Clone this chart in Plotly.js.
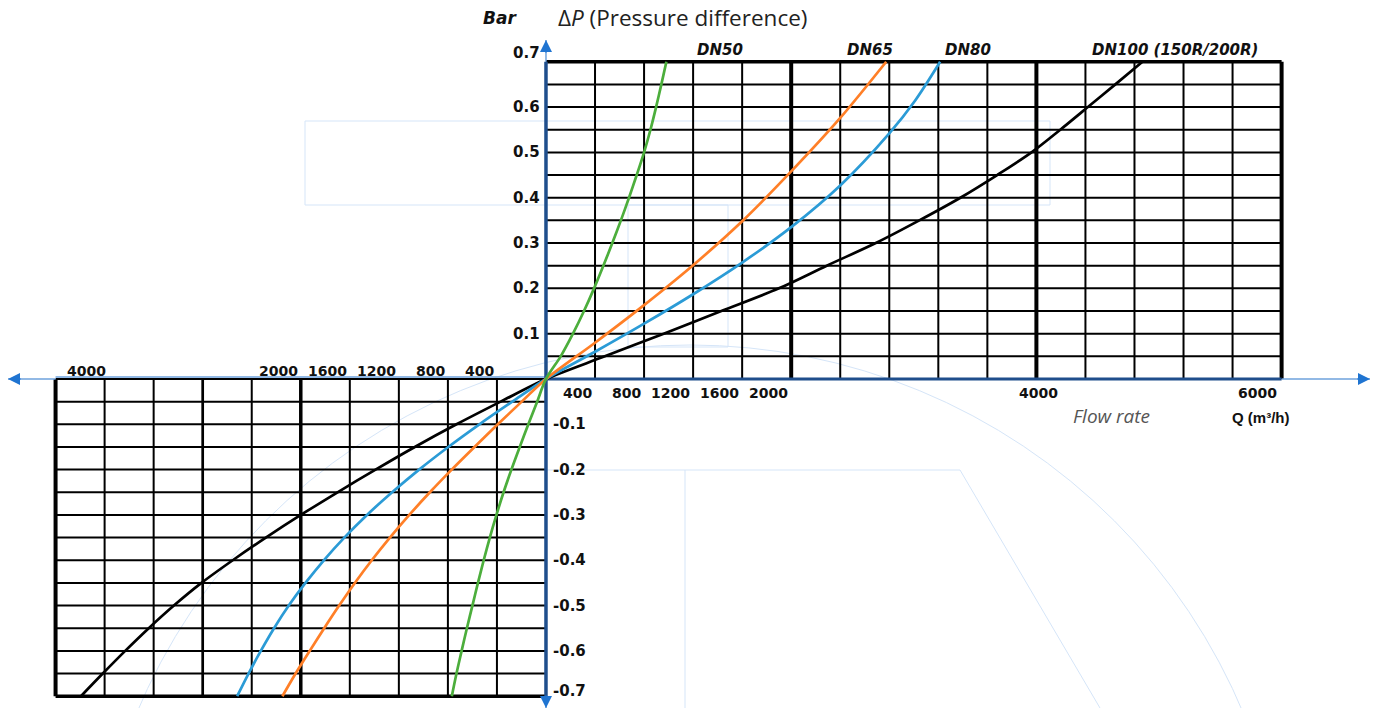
<!DOCTYPE html>
<html>
<head>
<meta charset="utf-8">
<script src="https://cdn.plot.ly/plotly-3.0.1.min.js"></script>
<style>
  html, body { margin: 0; padding: 0; background: #ffffff; }
  #chart { width: 1383px; height: 708px; }
</style>
</head>
<body>
<div id="chart"></div>
<script>
// ---------------- DATA ----------------
// Flow rate Q (m³/h) and pressure difference ΔP (bar)
// Upper-right quadrant (positive flow / positive ΔP)
const posDP = [0, 0.05, 0.10, 0.15, 0.20, 0.25, 0.30, 0.35, 0.40, 0.45, 0.50, 0.55, 0.60, 0.65, 0.70];
const dn50PosQ  = [0, 120, 220, 310, 392, 468, 541, 611, 677, 740, 800, 852, 898, 941, 982];
const dn100PosQ = [0, 480, 960, 1430, 1900, 2290, 2690, 3045, 3380, 3680, 3960, 4195, 4420, 4644, 4865];

const dn65PosQ  = [0, 400, 800, 1200, 1600, 2000, 2400, 2775];
const dn65PosDP = [0, 0.080, 0.163, 0.251, 0.348, 0.458, 0.576, 0.70];

const dn80PosQ  = [0, 400, 800, 1200, 1600, 2000, 2400, 2800, 3010, 3215];
const dn80PosDP = [0, 0.060, 0.122, 0.187, 0.257, 0.335, 0.427, 0.542, 0.614, 0.70];

// Lower-left quadrant (reverse flow / negative ΔP)
const negDP = [-0.05, -0.10, -0.15, -0.20, -0.25, -0.30, -0.35, -0.40, -0.45, -0.50, -0.55, -0.60, -0.65, -0.70];
const dn50NegQ  = [-72, -144, -214, -282, -346, -404, -458, -508, -555, -600, -645, -688, -730, -768];
const dn65NegQ  = [-198, -393, -583, -769, -947, -1115, -1273, -1421, -1559, -1687, -1809, -1927, -2042, -2150];
const dn80NegQ  = [-275, -543, -797, -1035, -1255, -1460, -1645, -1812, -1962, -2098, -2218, -2326, -2426, -2519];
const dn100NegQ = [-370, -730, -1070, -1390, -1700, -2000, -2285, -2555, -2810, -3035, -3240, -3432, -3615, -3793];

const seriesNames = ["DN50", "DN65", "DN80", "DN100 (150R/200R)"];

// Tick labels
const xTicksPos = [400, 800, 1200, 1600, 2000, 4000, 6000];
const xTicksNeg = [-400, -800, -1200, -1600, -2000, -4000];
const yTicksPos = [0.1, 0.2, 0.3, 0.4, 0.5, 0.6, 0.7];
const yTicksNeg = [-0.1, -0.2, -0.3, -0.4, -0.5, -0.6, -0.7];

// ---------------- LAYOUT GEOMETRY ----------------
const W = 1383, H = 708, ML = 8, MR = 13, MT = 40, MB = 0;
const PW = W - ML - MR, PH = H - MT - MB;
const X_RANGE = [-4388, 6721];
const Y_RANGE = [-0.726, 0.748];
const Q_MAX = 6000, Q_MIN = -4000, P_MAX = 0.7, P_MIN = -0.7;
const Q_STEP = 400, P_STEP = 0.05;

function pxX(p) { return (p - ML) / PW; }          // pixel -> paper x
function pxY(p) { return (H - MB - p) / PH; }      // pixel -> paper y

const colors = { dn50: "#4cae3c", dn65: "#ff7f27", dn80: "#2b9bd6", dn100: "#000000" };

function curve(negQ, posQ, posP, color) {
  const xs = negQ.slice().reverse().concat(posQ);
  const ys = negDP.slice().reverse().concat(posP);
  return {
    type: "scatter", mode: "lines", x: xs, y: ys,
    line: { color: color, width: 2.7, shape: "spline", smoothing: 0.9 },
    hoverinfo: "skip", showlegend: false
  };
}

const traces = [
  curve(dn100NegQ, dn100PosQ, posDP, colors.dn100),
  curve(dn80NegQ, dn80PosQ, dn80PosDP, colors.dn80),
  curve(dn65NegQ, dn65PosQ, dn65PosDP, colors.dn65),
  curve(dn50NegQ, dn50PosQ, posDP, colors.dn50)
];

// ---------------- SHAPES: grid, axes, faint background ----------------
const shapes = [];
function line(x0, y0, x1, y1, color, width, extra) {
  const s = { type: "line", xref: "x", yref: "y", x0: x0, y0: y0, x1: x1, y1: y1,
              line: { color: color, width: width }, layer: "below" };
  return Object.assign(s, extra || {});
}
const faint = "#d5e5f8";
function faintPaperLine(a, b, c, d) {
  shapes.push({ type: "line", xref: "paper", yref: "paper", x0: pxX(a), y0: pxY(b), x1: pxX(c), y1: pxY(d),
                line: { color: faint, width: 1 }, layer: "below" });
}
// faint watermark-like outlines
shapes.push({ type: "rect", xref: "paper", yref: "paper", x0: pxX(305), y0: pxY(121), x1: pxX(1050), y1: pxY(205),
              line: { color: faint, width: 1 }, layer: "below" });
shapes.push({ type: "rect", xref: "paper", yref: "paper", x0: pxX(628), y0: pxY(205), x1: pxX(728), y1: pxY(347),
              line: { color: faint, width: 1 }, layer: "below" });
shapes.push({ type: "circle", xref: "paper", yref: "paper", x0: pxX(90), y0: pxY(345), x1: pxX(1290), y1: pxY(1545),
              line: { color: faint, width: 1 }, layer: "below" });
faintPaperLine(423, 470, 960, 470);
faintPaperLine(685, 470, 685, 708);
faintPaperLine(960, 470, 1100, 708);

// upper-right grid
const nQp = Math.round(Q_MAX / Q_STEP), nP = Math.round(P_MAX / P_STEP);
for (let j = 1; j <= nP; j++) {
  const p = +(j * P_STEP).toFixed(3);
  shapes.push(line(0, p, Q_MAX, p, "#000", j === nP ? 3.5 : 2));
}
for (let i = 1; i <= nQp; i++) {
  const q = i * Q_STEP;
  shapes.push(line(q, 0, q, P_MAX, "#000", q % 2000 === 0 ? 4 : 2));
}
// lower-left grid
const nQn = Math.round(-Q_MIN / Q_STEP);
for (let j = 0; j <= nP; j++) {
  const p = -(j * P_STEP);
  shapes.push(line(Q_MIN, +p.toFixed(3), 0, +p.toFixed(3), "#000", j === nP ? 3.5 : 2));
}
for (let i = 1; i <= nQn; i++) {
  const q = -i * Q_STEP;
  let w = 2;
  if (q === -2000) w = 3.5;
  if (q === Q_MIN) w = 4;
  if (q === -2800) w = 2.7;
  shapes.push(line(q, P_MIN, q, 0, "#000", w));
}
// axes
const lightBlue = "#6ea2dd", darkBlue = "#1f4e8c";
shapes.push(line(X_RANGE[0], 0, Q_MIN, 0, lightBlue, 1.5));
shapes.push(line(Q_MAX, 0, X_RANGE[1], 0, lightBlue, 1.5));
shapes.push(line(Q_MIN, 0, 0, 0, lightBlue, 1.6, { ysizemode: "pixel", yanchor: 0, y0: 2, y1: 2 }));
shapes.push(line(0, 0, Q_MAX, 0, darkBlue, 3));
shapes.push(line(0, P_MAX, 0, Y_RANGE[1], lightBlue, 1.5));
shapes.push(line(0, Y_RANGE[0], 0, P_MIN, lightBlue, 1.5));
shapes.push(line(0, P_MIN, 0, P_MAX, darkBlue, 3.5));

// ---------------- ANNOTATIONS ----------------
const annotations = [];
const tickFont = { family: "DejaVu Sans, Verdana, sans-serif", size: 14, color: "#111" };
const yTickFont = { family: "DejaVu Sans, Verdana, sans-serif", size: 15, color: "#111" };

xTicksPos.forEach(v => {
  let anchor = "right", shift = -1;
  if (v === 4000) { anchor = "center"; shift = 2; }
  if (v === 6000) { anchor = "right"; shift = -3; }
  annotations.push({ xref: "x", yref: "y", x: v, y: 0, text: "<b>" + v + "</b>", showarrow: false,
                     xanchor: anchor, yanchor: "middle", xshift: shift, yshift: -14, font: tickFont });
});
xTicksNeg.forEach(v => {
  let anchor = "right", shift = -1;
  if (v === -4000) { anchor = "left"; shift = 9; }
  annotations.push({ xref: "x", yref: "y", x: v, y: 0, text: "<b>" + Math.abs(v) + "</b>", showarrow: false,
                     xanchor: anchor, yanchor: "middle", xshift: shift, yshift: 8, font: tickFont });
});
yTicksPos.forEach(v => {
  annotations.push({ xref: "x", yref: "y", x: 0, y: v, text: "<b>" + v.toFixed(1) + "</b>", showarrow: false,
                     xanchor: "right", yanchor: "middle", xshift: -4, yshift: v === 0.7 ? 9 : 0, font: yTickFont });
});
yTicksNeg.forEach(v => {
  annotations.push({ xref: "x", yref: "y", x: 0, y: v, text: "<b>" + v.toFixed(1) + "</b>", showarrow: false,
                     xanchor: "left", yanchor: "middle", xshift: 5, yshift: v === -0.7 ? 5 : 0, font: yTickFont });
});

// curve labels
const labelPix = [[720, 50], [870, 50], [968, 50], [1175, 50]];
seriesNames.forEach((n, i) => {
  annotations.push({ xref: "paper", yref: "paper", x: pxX(labelPix[i][0]), y: pxY(labelPix[i][1]),
                     text: "<b><i>" + n + "</i></b>", showarrow: false, xanchor: "center", yanchor: "middle",
                     font: { family: "DejaVu Sans, Verdana, sans-serif", size: 15, color: "#111" } });
});

// titles
annotations.push({ xref: "paper", yref: "paper", x: pxX(500), y: pxY(18), text: "<b><i>Bar</i></b>",
                   showarrow: false, xanchor: "center", yanchor: "middle",
                   font: { family: "DejaVu Sans, sans-serif", size: 17, color: "#111" } });
annotations.push({ xref: "paper", yref: "paper", x: pxX(556), y: pxY(18), text: "Δ<i>P</i> (Pressure difference)",
                   showarrow: false, xanchor: "left", yanchor: "middle",
                   font: { family: "Open Sans, sans-serif", size: 22.5, color: "#222" } });
annotations.push({ xref: "paper", yref: "paper", x: pxX(1111), y: pxY(416), text: "<i>Flow rate</i>",
                   showarrow: false, xanchor: "center", yanchor: "middle",
                   font: { family: "Open Sans, sans-serif", size: 19, color: "#555" } });
annotations.push({ xref: "paper", yref: "paper", x: pxX(1261), y: pxY(417), text: "<b>Q (m³/h)</b>",
                   showarrow: false, xanchor: "center", yanchor: "middle",
                   font: { family: "Liberation Sans, Arial, sans-serif", size: 15, color: "#111" } });

// arrow heads
const arrowColor = "#1f74d1";
function head(x, y, ax, ay) {
  annotations.push({ xref: "x", yref: "y", x: x, y: y, ax: ax, ay: ay, text: "", showarrow: true,
                     arrowhead: 2, arrowsize: 1.6, arrowwidth: 1.5, arrowcolor: arrowColor, standoff: 0 });
}
head(X_RANGE[1], 0, -14, 0);
head(X_RANGE[0], 0, 14, 0);
head(0, Y_RANGE[1], 0, 14);
head(0, Y_RANGE[0], 0, -14);

const layout = {
  width: W, height: H,
  margin: { l: ML, r: MR, t: MT, b: MB, pad: 0 },
  paper_bgcolor: "#ffffff", plot_bgcolor: "rgba(0,0,0,0)",
  showlegend: false,
  xaxis: { range: X_RANGE, visible: false, showgrid: false, zeroline: false, fixedrange: true },
  yaxis: { range: Y_RANGE, visible: false, showgrid: false, zeroline: false, fixedrange: true },
  shapes: shapes,
  annotations: annotations
};

Plotly.newPlot("chart", traces, layout, { displayModeBar: false, staticPlot: true });
</script>
</body>
</html>
